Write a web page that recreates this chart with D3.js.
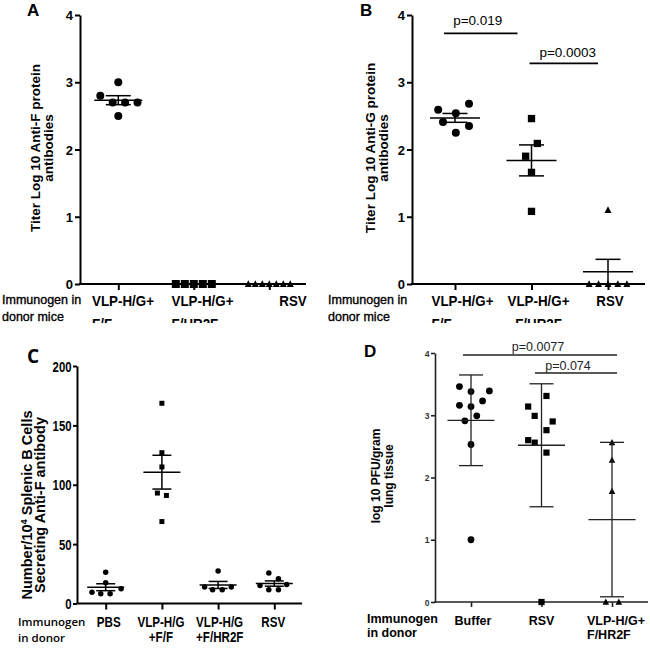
<!DOCTYPE html>
<html><head><meta charset="utf-8">
<script src="https://cdn.jsdelivr.net/npm/d3@7"></script>
<style>
body{margin:0;background:#fff}
svg{display:block}
text{font-family:"Liberation Sans",Arial,Helvetica,sans-serif;fill:#000}
</style>
</head><body>
<svg id="chart" width="650" height="648"></svg>
<script>
// ===================== DATA =====================
// Panel A: anti-F titers
const catsAB = ["VLP-H/G+|F/F", "VLP-H/G+|F/HR2F", "RSV"];
const antiF_FF   = [3.0, 2.8, 2.7, 2.7, 2.7, 2.5];
const antiF_HR2F = [0, 0, 0, 0, 0];
const antiF_RSV  = [0, 0, 0, 0, 0, 0, 0];
// Panel B: anti-G titers
const antiG_FF   = [2.59, 2.54, 2.68, 2.41, 2.35, 2.25];
const antiG_HR2F = [2.46, 2.09, 1.90, 1.66, 1.08];
const antiG_RSV  = [1.10, 0, 0, 0, 0, 0];
const pB = ["p=0.019", "p=0.0003"];
// Panel C: antibody secreting B cells
const catsC = ["PBS", "VLP-H/G|+F/F", "VLP-H/G|+F/HR2F", "RSV"];
const asc_PBS  = [26.4, 17.5, 9.5, 8.2, 8.2, 12.4];
const asc_FF   = [168.6, 127, 115, 93, 91, 69];
const asc_HR2F = [27.3, 13.8, 11.6, 11.6, 13.8];
const asc_RSV  = [25.6, 20.8, 16.0, 15.2, 11.6, 11.6];
// Panel D: lung virus titers
const catsD = ["Buffer", "RSV", "VLP-H/G+|F/HR2F"];
const pfu_Buffer = [3.46, 3.38, 3.39, 3.16, 3.14, 3.23, 2.91, 2.99, 2.53, 1.0];
const pfu_RSV    = [3.31, 3.14, 2.99, 2.90, 2.76, 2.60, 2.56, 2.40, 0];
const pfu_VLP    = [2.56, 2.28, 1.78, 0, 0];
const pD = ["p=0.0077", "p=0.074"];
// tick values
const ticksAB = [0, 1, 2, 3, 4];
const ticksC  = [0, 50, 100, 150, 200];
const ticksD  = [0, 1, 2, 3, 4];
// how the overlapping dots are spread sideways (in marker widths)
const spreadA = [[0, -2.25, -0.7, 0.85, 2.4, 0], [-2.25, -1.125, 0, 1.125, 2.25], [-3, -2, -1, 0, 1, 2, 3]];
const spreadB = [[-2.1, 0.1, 1.75, -1.5, 1.75, 0.1], [0, 0.8, -0.8, 0, 0], [0, -2.7, -1.35, 0, 1.4, 2.7]];
const spreadC = [[0, 0, -2.5, -0.9, 0.8, 2.8], [0, 0, 0, -0.9, 0.9, 0], [0, -2.45, -1, 0.75, 2.4], [-1, 0.75, 2.25, -2.6, -1, 0.75]];
const spreadD = [[-1.7, 0, 2.7, -1.7, 0, 1.7, -0.9, 0.85, 0, 0], [0.8, -2.15, -1.1, 1.8, 0.8, -2.15, -1.1, 0.8, 0], [0, 0, 0, -0.95, 1.05]];

// ===================== DRAWING =====================
const svg = d3.select("#chart");
svg.append("rect").attr("width", 650).attr("height", 648).attr("fill", "#fff");
const defs = svg.append("defs");
defs.append("clipPath").attr("id", "topclip").append("rect").attr("x", 0).attr("y", 0).attr("width", 650).attr("height", 323);

function sText(g, x, y, str, o) {
  const t = g.append("text")
    .attr("transform", `translate(${x},${y}) scale(${o.k || 1},1)`)
    .attr("font-size", o.size).attr("font-weight", o.weight || "normal")
    .attr("text-anchor", o.anchor || "start").text(str);
  if (o.family) t.style("font-family", o.family);
  if (o.fill) t.style("fill", o.fill);
  if (o.stroke) t.attr("stroke", o.stroke).attr("stroke-width", o.strokeW);
  return t;
}

function panel(c) {
  const g = svg.append("g");
  if (c.clip) g.attr("clip-path", "url(#topclip)");
  const y = d3.scaleLinear().domain(c.yDomain).range([c.y0, c.y1]);
  const x = d3.scalePoint().domain(c.cats).range(c.xr);
  const col = c.color || "#000";

  // y axis
  const ya = g.append("g").attr("transform", `translate(${c.ax},0)`)
    .call(d3.axisLeft(y).tickValues(c.yTicks).tickSize(c.tickLen).tickSizeOuter(0).tickPadding(c.tickPad).tickFormat(d3.format("d")));
  ya.select(".domain").attr("stroke", col).attr("stroke-width", c.axisW);
  ya.selectAll(".tick line").attr("stroke", col).attr("stroke-width", c.axisW);
  ya.selectAll(".tick text").remove();
  ya.selectAll(".tick").each(function(d) {
    sText(d3.select(this), -c.tickLen - c.tickPad, c.tickFont.dy, d, {size: c.tickFont.size, weight: c.tickFont.weight, k: c.tickFont.k, anchor: "end", fill: c.tickFont.fill});
  });
  // x axis line
  g.append("line").attr("x1", c.ax - c.axisW / 2).attr("x2", c.axEnd).attr("y1", c.y0).attr("y2", c.y0)
    .attr("stroke", col).attr("stroke-width", c.axisW);
  const xa = g.append("g").attr("transform", `translate(0,${c.y0})`)
    .call(d3.axisBottom(x).tickSize(c.xTickLen).tickFormat(""));
  xa.select(".domain").remove();
  xa.selectAll(".tick line").attr("stroke", col).attr("stroke-width", c.axisW);

  // points + mean/error bars
  c.series.forEach((s, i) => {
    const cx = x(c.cats[i]);
    const sz = s.size;
    const pts = s.vals.map((v, j) => ({v, px: cx + s.spread[j] * sz}));
    const mg = g.append("g").attr("fill", "#000");
    if (s.shape === "circle") {
      mg.selectAll("circle").data(pts).join("circle")
        .attr("cx", d => d.px).attr("cy", d => y(d.v)).attr("r", sz / 2);
    } else if (s.shape === "square") {
      mg.selectAll("rect").data(pts).join("rect")
        .attr("x", d => d.px - sz / 2).attr("y", d => y(d.v) - sz / 2).attr("width", sz).attr("height", sz);
    } else {
      mg.selectAll("path").data(pts).join("path")
        .attr("d", d => { const py = y(d.v); return `M${d.px},${py - sz * 0.55}L${d.px + sz / 2},${py + sz * 0.42}L${d.px - sz / 2},${py + sz * 0.42}Z`; });
    }
    const m = d3.mean(s.vals);
    const sd = d3.deviation(s.vals) || 0;
    const e = c.err === "sd" ? sd : sd / Math.sqrt(s.vals.length);
    const eg = g.append("g").attr("stroke", col).attr("stroke-width", c.errW).attr("fill", "none");
    eg.append("line").attr("x1", cx - c.meanHalf).attr("x2", cx + c.meanHalf).attr("y1", y(m)).attr("y2", y(m));
    eg.append("line").attr("x1", cx).attr("x2", cx).attr("y1", y(m - e)).attr("y2", y(m + e));
    [m - e, m + e].forEach(v => eg.append("line").attr("x1", cx - c.capHalf).attr("x2", cx + c.capHalf).attr("y1", y(v)).attr("y2", y(v)));
  });

  // p-value bars
  (c.pbars || []).forEach(p => {
    const x1 = x(c.cats[p.a]) + p.da, x2 = x(c.cats[p.b]) + p.db;
    g.append("line").attr("x1", x1).attr("x2", x2).attr("y1", p.y).attr("y2", p.y)
      .attr("stroke", col).attr("stroke-width", c.pW);
    sText(g, (x1 + x2) / 2 + (p.tdx || 0), p.ty, p.label, {size: c.pFont, anchor: "middle", fill: c.pFill});
  });

  // category labels
  c.cats.forEach((cat, i) => {
    const lines = cat.split("|");
    const cx = x(cat) + c.catDx[i];
    const f = c.catFont;
    const t1 = sText(g, cx, c.catY[0], lines[0], {size: f.size, weight: f.weight, k: f.k, anchor: "middle"});
    if (lines[1]) {
      if (c.catAlign2[i] === "start") {
        const w = t1.node().getComputedTextLength() * (f.k || 1);
        sText(g, cx - w / 2, c.catY[1], lines[1], {size: f.size, weight: f.weight, k: f.k, anchor: "start"});
      } else {
        sText(g, cx, c.catY[1], lines[1], {size: f.size, weight: f.weight, k: f.k, anchor: "middle"});
      }
    }
  });
  // donor label
  c.donor.lines.forEach((l, i) => sText(g, c.donor.x, c.donor.y[i], l, c.donor.font));
  // y label
  c.ylab.lines.forEach((l, i) => {
    const t = g.append("text").attr("transform", `translate(${c.ylab.x[i]},${c.ylab.yc}) rotate(-90)`)
      .attr("text-anchor", "middle").attr("font-size", c.ylab.size).attr("font-weight", "bold");
    if (l.includes("^")) {
      const [a, rest] = l.split("^");
      t.append("tspan").text(a);
      t.append("tspan").attr("dy", -5).attr("font-size", c.ylab.size * 0.65).text(rest[0]);
      t.append("tspan").attr("dy", 5).text(rest.slice(1));
    } else t.text(l);
  });
  // panel letter
  sText(g, c.letter.x, c.letter.y, c.letter.t, {size: c.letter.size, weight: "bold", family: c.letter.family});
}

const donorFont = {size: 12.5, weight: "normal", stroke: "#000", strokeW: 0.35};

panel({
  clip: true, cats: catsAB, yDomain: [0, 4], yTicks: ticksAB, x: 0,
  ax: 80, y0: 284, y1: 15, axEnd: 306, xr: [118.3, 269.3],
  tickLen: 5, tickPad: 2, axisW: 2, xTickLen: 6,
  tickFont: {size: 13, weight: "bold", dy: 4.6},
  series: [
    {vals: antiF_FF, shape: "circle", size: 8, spread: spreadA[0]},
    {vals: antiF_HR2F, shape: "square", size: 8, spread: spreadA[1]},
    {vals: antiF_RSV, shape: "triangle", size: 7, spread: spreadA[2]}],
  err: "sem", meanHalf: 24, capHalf: 12.5, errW: 1.5,
  catDx: [4.7, 8.7, 23.7], catAlign2: ["start", "start", "start"], catY: [306, 329],
  catFont: {size: 15, weight: "bold", k: 0.89},
  donor: {lines: ["Immunogen in", "donor mice"], x: 2, y: [304, 320.5], font: donorFont},
  ylab: {lines: ["Titer Log 10 Anti-F protein", "antibodies"], x: [40, 53], yc: 148, size: 13.5},
  letter: {t: "A", x: 27, y: 16, size: 17}
});

panel({
  clip: true, cats: catsAB, yDomain: [0, 4], yTicks: ticksAB,
  ax: 412, y0: 284, y1: 15, axEnd: 645, xr: [455, 608],
  tickLen: 5, tickPad: 2, axisW: 2, xTickLen: 6,
  tickFont: {size: 13, weight: "bold", dy: 4.6},
  series: [
    {vals: antiG_FF, shape: "circle", size: 8, spread: spreadB[0]},
    {vals: antiG_HR2F, shape: "square", size: 7.3, spread: spreadB[1]},
    {vals: antiG_RSV, shape: "triangle", size: 7, spread: spreadB[2]}],
  err: "sem", meanHalf: 25, capHalf: 12.5, errW: 1.5,
  pbars: [
    {a: 0, b: 1, da: -11, db: -14, y: 33.3, ty: 25, label: pB[0], tdx: -3},
    {a: 1, b: 2, da: -2, db: -10, y: 63.3, ty: 56.7, label: pB[1], tdx: 4}],
  pW: 1.8, pFont: 13.5,
  catDx: [7.5, 7, 2], catAlign2: ["start", "middle", "start"], catY: [306, 329],
  catFont: {size: 15, weight: "bold", k: 0.89},
  donor: {lines: ["Immunogen in", "donor mice"], x: 328, y: [304, 320.5], font: donorFont},
  ylab: {lines: ["Titer Log 10 Anti-G protein", "antibodies"], x: [375, 388], yc: 148, size: 13.5},
  letter: {t: "B", x: 360, y: 16, size: 17}
});

panel({
  cats: catsC, yDomain: [0, 200], yTicks: ticksC,
  ax: 77, y0: 603.5, y1: 366, axEnd: 302, xr: [105.7, 274.3],
  tickLen: 4, tickPad: 1.5, axisW: 2, xTickLen: 6,
  tickFont: {size: 14, weight: "bold", k: 0.81, dy: 5},
  series: [
    {vals: asc_PBS, shape: "circle", size: 5.5, spread: spreadC[0]},
    {vals: asc_FF, shape: "square", size: 5, spread: spreadC[1]},
    {vals: asc_HR2F, shape: "circle", size: 5.5, spread: spreadC[2]},
    {vals: asc_RSV, shape: "circle", size: 5.5, spread: spreadC[3]}],
  err: "sem", meanHalf: 18.5, capHalf: 9.5, errW: 1.5,
  catDx: [3, -1, 1.5, -1], catAlign2: ["middle", "middle", "start", "middle"], catY: [627, 642],
  catFont: {size: 14.5, weight: "bold", k: 0.8},
  donor: {lines: ["Immunogen", "in donor"], x: 18, y: [626, 642], font: {size: 11.5, weight: 600, family: "'Open Sans',sans-serif"}},
  ylab: {lines: ["Number/10^4 Splenic B Cells", "Secreting Anti-F antibody"], x: [31.5, 44.5], yc: 505, size: 14.5},
  letter: {t: "C", x: 27, y: 363, size: 19, family: "'Open Sans',sans-serif"}
});

panel({
  cats: catsD, yDomain: [0, 4], yTicks: ticksD, color: "#222",
  ax: 435, y0: 602, y1: 353, axEnd: 648, xr: [471, 612],
  tickLen: 4, tickPad: 1.5, axisW: 1.6, xTickLen: 5,
  tickFont: {size: 8.5, weight: "bold", dy: 3, fill: "#333"},
  series: [
    {vals: pfu_Buffer, shape: "circle", size: 6.8, spread: spreadD[0]},
    {vals: pfu_RSV, shape: "square", size: 6.2, spread: spreadD[1]},
    {vals: pfu_VLP, shape: "triangle", size: 6.5, spread: spreadD[2]}],
  err: "sd", meanHalf: 23.5, capHalf: 12, errW: 1.3,
  pbars: [
    {a: 0, b: 2, da: -8, db: 5, y: 355, ty: 351, label: pD[0], tdx: -2},
    {a: 1, b: 2, da: -6.5, db: 5, y: 373, ty: 369.5, label: pD[1], tdx: -8}],
  pW: 1.4, pFont: 12.5, pFill: "#222",
  catDx: [2, 0, 4], catAlign2: ["start", "start", "start"], catY: [625, 639],
  catFont: {size: 12.5, weight: "bold"},
  donor: {lines: ["Immunogen", "in donor"], x: 367, y: [623, 637], font: {size: 12.5, weight: "bold"}},
  ylab: {lines: ["log 10 PFU/gram", "lung tissue"], x: [380, 393], yc: 476, size: 12},
  letter: {t: "D", x: 364, y: 357, size: 17}
});
</script>
</body></html>
